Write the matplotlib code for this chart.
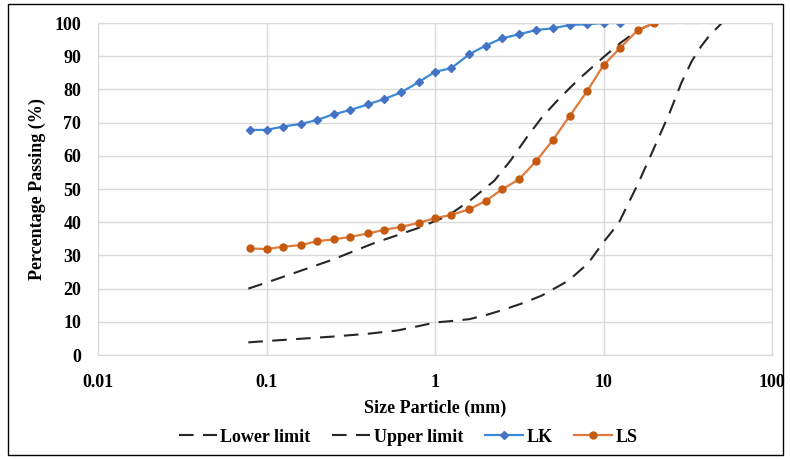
import matplotlib.pyplot as plt
from matplotlib.patches import Rectangle

# Sieve sizes (mm) and percentage passing
lk_size = [0.08, 0.1, 0.125, 0.16, 0.2, 0.25, 0.315, 0.4, 0.5, 0.63, 0.8, 1.0,
           1.25, 1.6, 2.0, 2.5, 3.15, 4.0, 5.0, 6.3, 8.0, 10.0, 12.5]
lk_pass = [67.8, 67.8, 68.8, 69.6, 70.8, 72.5, 73.8, 75.5, 77.1, 79.1, 82.2, 85.3,
           86.4, 90.6, 93.2, 95.4, 96.6, 97.9, 98.4, 99.4, 99.6, 100, 100]

ls_size = [0.08, 0.1, 0.125, 0.16, 0.2, 0.25, 0.315, 0.4, 0.5, 0.63, 0.8, 1.0,
           1.25, 1.6, 2.0, 2.5, 3.15, 4.0, 5.0, 6.3, 8.0, 10.0, 12.5, 16.0, 20.0]
ls_pass = [32.1, 31.9, 32.6, 33.1, 34.3, 34.8, 35.6, 36.6, 37.7, 38.6, 39.8, 41.2,
           42.2, 43.9, 46.4, 49.9, 52.9, 58.5, 64.7, 72.0, 79.5, 87.3, 92.4, 97.9, 100]

lower_size = [0.078, 0.1, 0.15, 0.24, 0.4, 0.6, 0.8, 1.0, 1.3, 1.6, 2.0, 2.5, 3.4,
              4.3, 6.2, 8.1, 10.0, 12.3, 16.1, 20.1, 24.7, 29.0, 33.4, 38.0, 42.2,
              50.4]
lower_pass = [3.8, 4.2, 4.8, 5.5, 6.4, 7.4, 8.7, 9.8, 10.3, 10.8, 12.0, 13.5, 15.8,
              17.9, 22.4, 27.6, 34.0, 39.7, 51.8, 62.7, 73.0, 82.0, 88.5, 93.0, 96.0,
              100]

upper_size = [0.078, 0.1, 0.24, 0.43, 0.79, 1.2, 1.63, 2.25, 2.8, 3.5, 4.3, 5.4,
              7.1, 10.0, 12.6, 16.0, 20.0, 50.4]
upper_pass = [20.0, 21.8, 28.5, 33.6, 38.2, 42.0, 46.7, 52.5, 58.5, 65.5, 71.5, 77.0,
              83.0, 89.7, 94.0, 97.8, 100, 100]

plt.rcParams['font.family'] = ['Liberation Serif', 'DejaVu Serif']
plt.rcParams['font.weight'] = 'bold'

fig = plt.figure(figsize=(7.9, 4.59), dpi=100)
ax = fig.add_axes([98 / 790, 1 - 355 / 459, (772 - 98) / 790, (355 - 23) / 459])

ax.plot(lower_size, lower_pass, color='#262626', lw=1.5, dashes=(7, 4.5),
        label='Lower limit')
ax.plot(upper_size, upper_pass, color='#262626', lw=1.5, dashes=(7, 4.5),
        label='Upper limit')
ax.plot(lk_size, lk_pass, color='#3b8ad8', lw=1.6, marker='D', markersize=4.5,
        markerfacecolor='#4472C4', markeredgecolor='#4472C4', label='LK')
ax.plot(ls_size, ls_pass, color='#e07b39', lw=1.6, marker='o', markersize=5,
        markerfacecolor='#C55A11', markeredgecolor='#C55A11', label='LS')

ax.set_xscale('log')
ax.set_xlim(0.01, 100)
ax.set_ylim(0, 100)
ax.set_xticks([0.01, 0.1, 1, 10, 100])
ax.set_xticklabels(['0.01', '0.1', '1', '10', '100'])
ax.set_yticks(range(0, 101, 10))
ax.minorticks_off()
ax.tick_params(length=0, labelsize=13)
ax.tick_params(axis='y', pad=12)
ax.tick_params(axis='x', pad=14)
ax.grid(True, color='#d9d9d9', lw=1)
ax.set_axisbelow(True)
for s in ax.spines.values():
    s.set_color('#d9d9d9')

ax.set_xlabel('Size Particle (mm)', fontsize=13, fontweight='bold', labelpad=6)
ax.set_ylabel('Percentage Passing (%)', fontsize=13, fontweight='bold', labelpad=6)

fig.legend(loc='center', bbox_to_anchor=(408 / 790, 1 - 437 / 459), ncol=4,
           frameon=False, fontsize=13, handlelength=2.1, columnspacing=1.2,
           handletextpad=0.2)

fig.add_artist(Rectangle((8 / 790, 4 / 459), 775 / 790, 451 / 459,
                         transform=fig.transFigure, fill=False,
                         edgecolor='black', lw=1))

fig.savefig('out.png', dpi=100)
